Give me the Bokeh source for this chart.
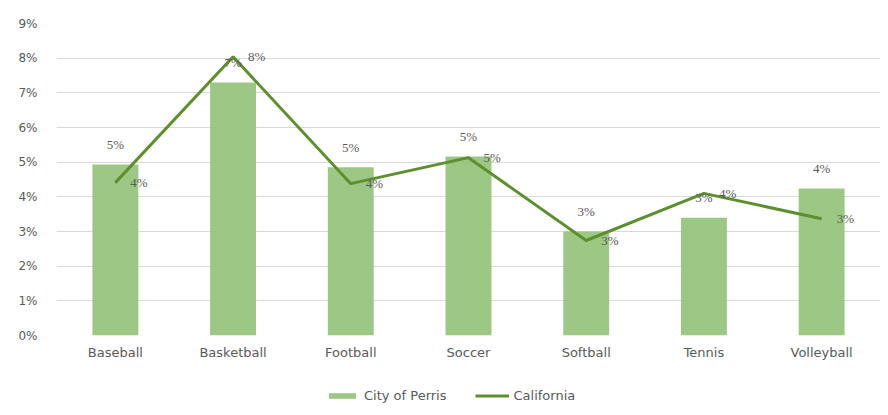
from bokeh.plotting import figure
from bokeh.layouts import column
from bokeh.models import (ColumnDataSource, LabelSet, Legend, LegendItem,
                          NumeralTickFormatter, FixedTicker, Range1d)
from bokeh.embed import file_html
from bokeh.resources import INLINE

categories = ["Baseball", "Basketball", "Football", "Soccer", "Softball", "Tennis", "Volleyball"]
perris = [0.0493, 0.0730, 0.0485, 0.0516, 0.0300, 0.0340, 0.0424]
california = [0.0441, 0.0804, 0.0438, 0.0513, 0.0274, 0.0410, 0.0337]
y_ticks = [0.00, 0.01, 0.02, 0.03, 0.04, 0.05, 0.06, 0.07, 0.08, 0.09]
series_names = ["City of Perris", "California"]

BAR = "#97C47E"
LINE = "#5E8F2E"
TXT = "#595959"
FONT = "DejaVu Sans"
FS = "12px"
FS_L = "13px"

src = ColumnDataSource(dict(
    cat=categories,
    perris=perris,
    california=california,
    perris_lbl=[f"{round(v * 100)}%" for v in perris],
    cal_lbl=[f"{round(v * 100)}%" for v in california],
))

p = figure(x_range=categories, y_range=Range1d(0, 0.09),
           width=888, height=365, output_backend="svg", toolbar_location=None,
           min_border_left=56, min_border_right=8, min_border_top=23, min_border_bottom=30)
p.outline_line_color = None

bars = p.vbar(x="cat", top="perris", width=0.39, source=src,
              fill_color=BAR, line_color=None, fill_alpha=0.95)
line = p.line(x="cat", y="california", source=src, line_color=LINE, line_width=3)

p.add_layout(LabelSet(x="cat", y="perris", text="perris_lbl", source=src,
                      text_align="center", text_baseline="middle", y_offset=20,
                      text_font=FONT, text_font_size=FS_L, text_color=TXT))
p.add_layout(LabelSet(x="cat", y="california", text="cal_lbl", source=src,
                      text_align="left", text_baseline="middle", x_offset=15,
                      text_font=FONT, text_font_size=FS_L, text_color=TXT))

p.yaxis.ticker = FixedTicker(ticks=y_ticks)
p.yaxis.formatter = NumeralTickFormatter(format="0%")
for ax in (p.xaxis[0], p.yaxis[0]):
    ax.axis_line_color = None
    ax.major_tick_line_color = None
    ax.minor_tick_line_color = None
    ax.major_label_text_font = FONT
    ax.major_label_text_color = TXT
p.yaxis.major_label_text_font_size = FS
p.xaxis.major_label_text_font_size = FS_L
p.yaxis.major_label_standoff = 13
p.xaxis.major_label_standoff = 3

p.xgrid.grid_line_color = None
p.ygrid.grid_line_color = "#D9D9D9"
p.ygrid.ticker = FixedTicker(ticks=y_ticks)

# legend strip below the chart (dummy renderers sit outside the visible range)
pl = figure(width=888, height=50, output_backend="svg", toolbar_location=None,
            x_range=Range1d(0, 1), y_range=Range1d(0, 1),
            x_axis_type=None, y_axis_type=None, min_border=0)
pl.outline_line_color = None
pl.grid.visible = False
lb = pl.vbar(x=[-10], top=[-5], bottom=[-6], width=0.1,
             fill_color=BAR, line_color=None, fill_alpha=0.95)
ll = pl.line(x=[-10, -9], y=[-10, -10], line_color=LINE, line_width=3)
legend = Legend(items=[LegendItem(label=series_names[0], renderers=[lb]),
                       LegendItem(label=series_names[1], renderers=[ll])],
                orientation="horizontal", location=(269, 12),
                label_text_font=FONT, label_text_font_size=FS_L, label_text_color=TXT,
                glyph_width=34, glyph_height=7, spacing=28, label_standoff=5,
                border_line_color=None, background_fill_alpha=0, margin=0, padding=4)
pl.add_layout(legend, "center")

layout = column(p, pl, spacing=0)
open("out.html", "w").write(file_html(layout, INLINE))
